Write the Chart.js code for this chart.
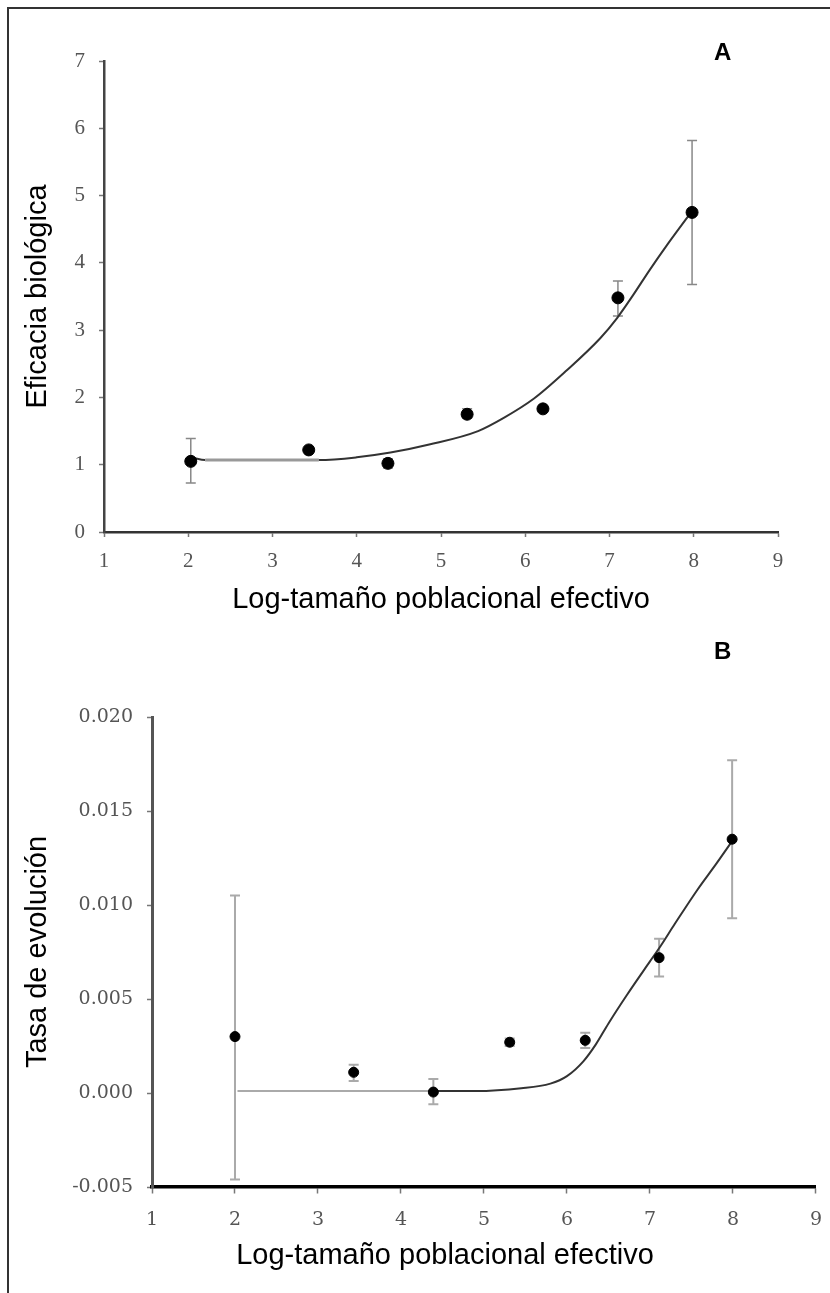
<!DOCTYPE html>
<html>
<head>
<meta charset="utf-8">
<script src="https://cdn.jsdelivr.net/npm/chart.js@4/dist/chart.umd.min.js"></script>
<style>
  body { margin: 0; background: #fff; }
  #page { position: relative; width: 830px; height: 1293px; overflow: hidden; }
  #frame { position: absolute; left: 7px; top: 7px; width: 830px; height: 1300px;
           border-top: 2px solid #333; border-left: 2px solid #333; }
  .wrap { position: absolute; left: 0; width: 830px; }
  .tag { position: absolute; font: bold 24px "Liberation Sans", Arial, sans-serif; color: #000; }
  .cap { position: absolute; font: 29px "Liberation Sans", Arial, sans-serif; color: #000;
         text-align: center; white-space: nowrap; }
</style>
</head>
<body>
<div id="page">
  <div id="frame"></div>
  <div class="wrap" style="top:0;height:640px"><canvas id="chartA"></canvas></div>
  <div class="wrap" style="top:640px;height:653px"><canvas id="chartB"></canvas></div>
  <div class="tag" style="left:714px;top:38px">A</div>
  <div class="tag" style="left:714px;top:637px">B</div>
  <div class="cap" id="capB" style="left:195px;width:500px;top:1238px"></div>
</div>
<script>
// panel A: eficacia biologica
const xA = [2.03, 3.43, 4.37, 5.31, 6.21, 7.10, 7.98];
const yA = [1.05, 1.22, 1.02, 1.75, 1.83, 3.48, 4.75];
const lowA = [0.73, null, 0.95, 1.69, null, 3.21, 3.68];
const highA = [1.39, null, 1.09, 1.83, null, 3.73, 5.82];
const curveXA = [2.06, 2.2, 3.55, 4.0, 4.4, 4.86, 5.44, 5.75, 6.1, 6.49, 6.89, 7.09, 7.28, 7.48, 7.68, 7.95];
const curveYA = [1.10, 1.07, 1.07, 1.11, 1.18, 1.30, 1.50, 1.70, 1.98, 2.40, 2.88, 3.18, 3.52, 3.90, 4.26, 4.72];

// panel B: tasa de evolucion
const xB = [2.00, 3.43, 4.39, 5.31, 6.22, 7.11, 7.99];
const yB = [0.0030, 0.0011, 0.00005, 0.0027, 0.0028, 0.0072, 0.0135];
const lowB = [-0.0046, 0.00064, -0.0006, 0.0025, 0.0024, 0.0062, 0.0093];
const highB = [0.0105, 0.0015, 0.00074, 0.0029, 0.0032, 0.0082, 0.0177];
const flatXB = [2.03, 4.39];
const flatYB = [0.0001, 0.0001];
const curveXB = [4.39, 4.9, 5.45, 5.8, 6.0, 6.2, 6.35, 6.5, 6.72, 7.0, 7.11, 7.3, 7.57, 7.8, 7.99];
const curveYB = [0.0001, 0.0001, 0.00025, 0.0005, 0.0009, 0.0017, 0.0026, 0.0037, 0.0052, 0.0070, 0.0077, 0.0090, 0.0108, 0.0122, 0.0134];

const xTicks = [1, 2, 3, 4, 5, 6, 7, 8, 9];
const xTitle = 'Log-tamaño poblacional efectivo';

const pts = (xs, ys) => xs.map((x, i) => ({ x: x, y: ys[i] }));

// error bars drawn under the datasets, through the chart scales
const errorBars = {
  id: 'errorBars',
  beforeDatasetsDraw(chart, args, opts) {
    const { ctx, scales } = chart;
    ctx.save();
    ctx.strokeStyle = opts.color;
    ctx.lineWidth = opts.width;
    opts.x.forEach((x, i) => {
      if (opts.low[i] == null) return;
      const px = scales.x.getPixelForValue(x);
      const p1 = scales.y.getPixelForValue(opts.low[i]);
      const p2 = scales.y.getPixelForValue(opts.high[i]);
      ctx.beginPath();
      ctx.moveTo(px, p1); ctx.lineTo(px, p2);
      ctx.moveTo(px - opts.cap, p1); ctx.lineTo(px + opts.cap, p1);
      ctx.moveTo(px - opts.cap, p2); ctx.lineTo(px + opts.cap, p2);
      ctx.stroke();
    });
    ctx.restore();
  }
};

const titleFont = { family: '"Liberation Sans", Arial, sans-serif', size: 29 };

function makeScales(cfg) {
  return {
    x: {
      type: 'linear', min: 1, max: 9,
      afterBuildTicks: s => { s.ticks = xTicks.map(v => ({ value: v })); },
      afterFit: s => { s.height = cfg.xHeight; },
      border: { display: true, color: cfg.xAxisColor, width: cfg.xAxisWidth },
      // long tick length only pushes labels down; the dash keeps the visible mark short
      grid: { drawOnChartArea: false, drawTicks: true, tickLength: cfg.xTickLen, tickColor: '#777',
              tickWidth: 1.5, tickBorderDash: [5, 60] },
      ticks: { color: '#555', padding: cfg.xPad, font: cfg.tickFont, maxRotation: 0 },
      title: { display: cfg.xTitleShow, text: xTitle, color: '#000', font: titleFont,
               padding: { top: 0, bottom: cfg.xTitlePad } }
    },
    y: {
      type: 'linear', min: cfg.yMin, max: cfg.yMax,
      afterBuildTicks: s => { s.ticks = cfg.yTicks.map(v => ({ value: v })); },
      afterFit: s => { s.width = cfg.yWidth; },
      border: { display: true, color: cfg.yAxisColor, width: cfg.yAxisWidth },
      grid: { drawOnChartArea: false, drawTicks: true, tickLength: 5, tickColor: '#777', tickWidth: 1.5 },
      ticks: { color: '#555', padding: 14, font: cfg.tickFont, callback: cfg.fmt },
      title: { display: true, text: cfg.yTitle, color: '#000', font: titleFont,
               padding: { top: 21, bottom: 0 } }
    }
  };
}

new Chart(document.getElementById('chartA'), {
  type: 'scatter',
  data: {
    datasets: [
      { data: pts(xA, yA), backgroundColor: '#000', borderColor: '#000', pointRadius: 6, pointHoverRadius: 6 },
      { data: pts(curveXA, curveYA), showLine: true, pointRadius: 0, borderColor: '#333', borderWidth: 2,
        cubicInterpolationMode: 'monotone',
        segment: {
          borderColor: c => (c.p0.parsed.x >= 2.15 && c.p1.parsed.x <= 3.6) ? '#999' : '#333',
          borderWidth: c => (c.p0.parsed.x >= 2.15 && c.p1.parsed.x <= 3.6) ? 3 : 2
        } }
    ]
  },
  options: {
    responsive: true, maintainAspectRatio: false, animation: false,
    layout: { padding: { top: 61, right: 52, bottom: 0, left: 0 } },
    plugins: {
      legend: { display: false }, tooltip: { enabled: false },
      errorBars: { x: xA, low: lowA, high: highA, color: '#888', width: 1.5, cap: 5 }
    },
    scales: makeScales({
      xHeight: 108, xTickLen: 5, xPad: 12, xTitlePad: 23, xTitleShow: true, yWidth: 104,
      xAxisColor: '#333', xAxisWidth: 2.5, yAxisColor: '#444', yAxisWidth: 2.5,
      tickFont: { family: '"Liberation Serif", "Times New Roman", serif', size: 21 },
      yMin: 0, yMax: 7, yTicks: [0, 1, 2, 3, 4, 5, 6, 7], fmt: v => String(v),
      yTitle: 'Eficacia biológica'
    })
  },
  plugins: [errorBars]
});

new Chart(document.getElementById('chartB'), {
  type: 'scatter',
  data: {
    datasets: [
      { data: pts(xB, yB), backgroundColor: '#000', borderColor: '#000', pointRadius: 5, pointHoverRadius: 5 },
      { data: pts(curveXB, curveYB), showLine: true, pointRadius: 0, borderColor: '#333', borderWidth: 2,
        cubicInterpolationMode: 'monotone' },
      { data: pts(flatXB, flatYB), showLine: true, pointRadius: 0, borderColor: '#aaa', borderWidth: 2 }
    ]
  },
  options: {
    responsive: true, maintainAspectRatio: false, animation: false,
    layout: { padding: { top: 77, right: 14, bottom: 0, left: 0 } },
    plugins: {
      legend: { display: false }, tooltip: { enabled: false },
      errorBars: { x: xB, low: lowB, high: highB, color: '#aaa', width: 2, cap: 5 }
    },
    scales: makeScales({
      xHeight: 106, xTickLen: 14, xPad: 8, xTitlePad: 20, xTitleShow: false, yWidth: 152,
      xAxisColor: '#000', xAxisWidth: 3.5, yAxisColor: '#555', yAxisWidth: 3,
      tickFont: { family: '"DejaVu Serif", serif', size: 19 },
      yMin: -0.005, yMax: 0.02, yTicks: [-0.005, 0, 0.005, 0.01, 0.015, 0.02],
      fmt: v => v.toFixed(3),
      yTitle: 'Tasa de evolución'
    })
  },
  plugins: [errorBars]
});

// panel B x title sits left of the axis centre in the original
document.getElementById('capB').textContent = xTitle;
</script>
</body>
</html>
